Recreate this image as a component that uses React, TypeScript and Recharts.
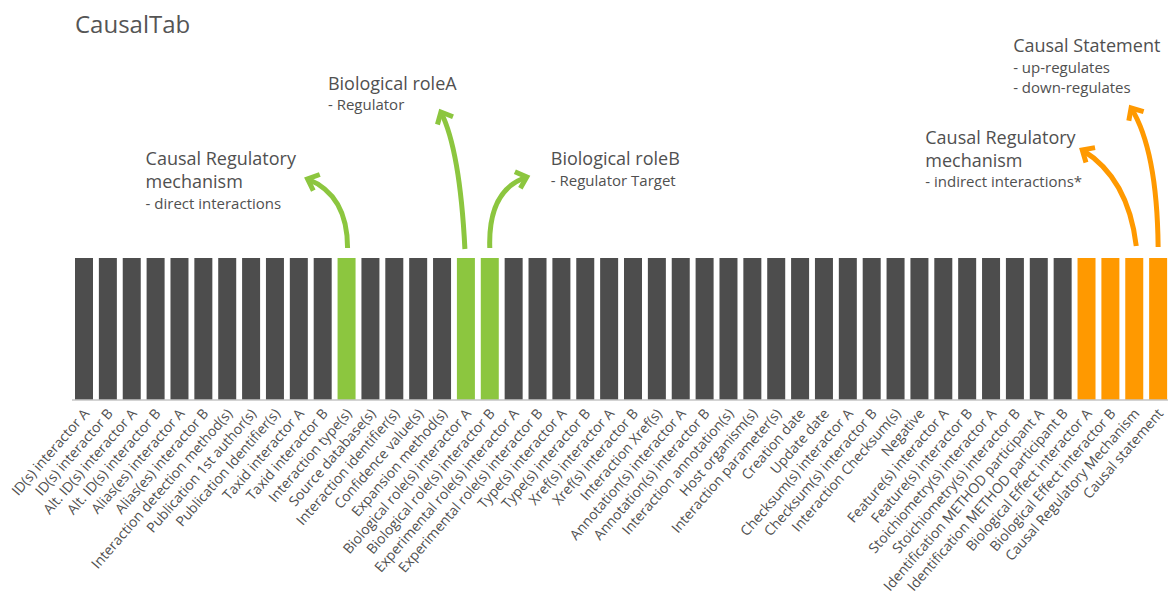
import { BarChart, Bar, XAxis, YAxis, Cell, LabelList } from "recharts";

const categories = [
  "ID(s) interactor A",
  "ID(s) interactor B",
  "Alt. ID(s) interactor A",
  "Alt. ID(s) interactor B",
  "Alias(es) interactor A",
  "Alias(es) interactor B",
  "Interaction detection method(s)",
  "Publication 1st author(s)",
  "Publication Identifier(s)",
  "Taxid interactor A",
  "Taxid interactor B",
  "Interaction type(s)",
  "Source database(s)",
  "Interaction identifier(s)",
  "Confidence value(s)",
  "Expansion method(s)",
  "Biological role(s) interactor A",
  "Biological role(s) interactor B",
  "Experimental role(s) interactor A",
  "Experimental role(s) interactor B",
  "Type(s) interactor A",
  "Type(s) interactor B",
  "Xref(s) interactor A",
  "Xref(s) interactor B",
  "Interaction Xref(s)",
  "Annotation(s) interactor A",
  "Annotation(s) interactor B",
  "Interaction annotation(s)",
  "Host organism(s)",
  "Interaction parameter(s)",
  "Creation date",
  "Update date",
  "Checksum(s) interactor A",
  "Checksum(s) interactor B",
  "Interaction Checksum(s)",
  "Negative",
  "Feature(s) interactor A",
  "Feature(s) interactor B",
  "Stoichiometry(s) interactor A",
  "Stoichiometry(s) interactor B",
  "Identification METHOD participant A",
  "Identification METHOD participant B",
  "Biological Effect interactor A",
  "Biological Effect interactor B",
  "Causal Regulatory Mechanism",
  "Causal statement",
];

// every column is shown at full height
const values = categories.map(() => 1);

// "" = standard MITAB column, "green" = reused for causality, "orange" = new column
const groups = [
  "", "", "", "", "", "", "", "", "", "", "", "green",
  "", "", "", "", "green", "green", "", "", "", "", "", "",
  "", "", "", "", "", "", "", "", "", "", "", "", "", "",
  "", "", "", "", "orange", "orange", "orange", "orange",
];

const data = categories.map((name, i) => ({ name, value: values[i], group: groups[i] }));

const colors: Record<string, string> = {
  "": "#4d4d4d",
  green: "#8cc63f",
  orange: "#ff9900",
};

const FONT = "'Open Sans', 'DejaVu Sans', sans-serif";
const TEXT = "#505050";

// callouts attached to a column; offsets are relative to the bar's top center
type Callout = {
  color: string;
  start: [number, number];
  ctrl: [number, number];
  end: [number, number];
  textX: number;
  titles: { text: string; dy: number }[];
  subs: { text: string; dy: number }[];
};

const callouts: Record<string, Callout> = {
  "Interaction type(s)": {
    color: colors.green,
    start: [1, -10],
    ctrl: [1, -63],
    end: [-39, -79],
    textX: -201,
    titles: [
      { text: "Causal Regulatory", dy: -93 },
      { text: "mechanism", dy: -70 },
    ],
    subs: [{ text: "- direct interactions", dy: -49 }],
  },
  "Biological role(s) interactor A": {
    color: colors.green,
    start: [-1, -9],
    ctrl: [-6, -108],
    end: [-25, -146],
    textX: -138,
    titles: [{ text: "Biological roleA", dy: -168 }],
    subs: [{ text: "- Regulator", dy: -148 }],
  },
  "Biological role(s) interactor B": {
    color: colors.green,
    start: [0, -10],
    ctrl: [-2, -68],
    end: [37, -81],
    textX: 61,
    titles: [{ text: "Biological roleB", dy: -93 }],
    subs: [{ text: "- Regulator Target", dy: -72 }],
  },
  "Causal Regulatory Mechanism": {
    color: colors.orange,
    start: [2, -12],
    ctrl: [-6, -80],
    end: [-52, -108],
    textX: -209,
    titles: [
      { text: "Causal Regulatory", dy: -114 },
      { text: "mechanism", dy: -91 },
    ],
    subs: [{ text: "- indirect interactions*", dy: -71 }],
  },
  "Causal statement": {
    color: colors.orange,
    start: [0, -11],
    ctrl: [-1, -108],
    end: [-27, -150],
    textX: -145,
    titles: [{ text: "Causal Statement", dy: -206 }],
    subs: [
      { text: "- up-regulates", dy: -185 },
      { text: "- down-regulates", dy: -165 },
    ],
  },
};

function renderCallout(props: any) {
  const { x, y, width, value } = props;
  const c = callouts[value];
  if (!c) return null;
  const cx = Number(x) + Number(width) / 2;
  const top = Number(y);
  const sx = cx + c.start[0], sy = top + c.start[1];
  const qx = cx + c.ctrl[0], qy = top + c.ctrl[1];
  const ex = cx + c.end[0], ey = top + c.end[1];
  // arrow head follows the tangent at the end of the curve
  const ang = Math.atan2(ey - qy, ex - qx);
  const len = 13;
  const spread = (42 * Math.PI) / 180;
  const a1x = ex - len * Math.cos(ang - spread);
  const a1y = ey - len * Math.sin(ang - spread);
  const a2x = ex - len * Math.cos(ang + spread);
  const a2y = ey - len * Math.sin(ang + spread);
  return (
    <g>
      <path
        d={`M${sx},${sy} Q${qx},${qy} ${ex},${ey}`}
        fill="none"
        stroke={c.color}
        strokeWidth={5}
      />
      <path
        d={`M${a1x},${a1y} L${ex},${ey} L${a2x},${a2y}`}
        fill="none"
        stroke={c.color}
        strokeWidth={5}
        strokeLinejoin="miter"
      />
      {c.titles.map((t) => (
        <text key={t.text} x={cx + c.textX} y={top + t.dy} fontSize={18} fill={TEXT} fontFamily={FONT}>
          {t.text}
        </text>
      ))}
      {c.subs.map((t) => (
        <text key={t.text} x={cx + c.textX} y={top + t.dy} fontSize={15} fill={TEXT} fontFamily={FONT}>
          {t.text}
        </text>
      ))}
    </g>
  );
}

function AngledTick(props: any) {
  const { x, y, payload } = props;
  const px = x + 6;
  const py = y + 6;
  return (
    <text
      x={px}
      y={py}
      transform={`rotate(-49, ${px}, ${py})`}
      textAnchor="end"
      fontSize={14}
      fill={TEXT}
      fontFamily={FONT}
    >
      {payload.value}
    </text>
  );
}

export default function App() {
  return (
    <div
      style={{
        position: "absolute",
        left: 0,
        top: 0,
        width: 1168,
        height: 594,
        overflow: "hidden",
        background: "#fff",
      }}
    >
      <div
        style={{
          position: "absolute",
          left: 75,
          top: 12,
          fontSize: 24,
          lineHeight: "24px",
          color: "#555",
          fontFamily: FONT,
        }}
      >
        CausalTab
      </div>
      <BarChart
        width={1170}
        height={594}
        data={data}
        margin={{ top: 258, right: 0, left: 72, bottom: 0 }}
        barSize={18}
      >
        <XAxis
          dataKey="name"
          interval={0}
          height={194}
          tickLine={false}
          axisLine={{ stroke: "#c4c4c4", strokeWidth: 1.5 }}
          tick={<AngledTick />}
        />
        <YAxis hide domain={[0, 1]} />
        <Bar dataKey="value" isAnimationActive={false}>
          {data.map((d) => (
            <Cell key={d.name} fill={colors[d.group]} />
          ))}
          <LabelList dataKey="name" content={renderCallout} />
        </Bar>
      </BarChart>
    </div>
  );
}
